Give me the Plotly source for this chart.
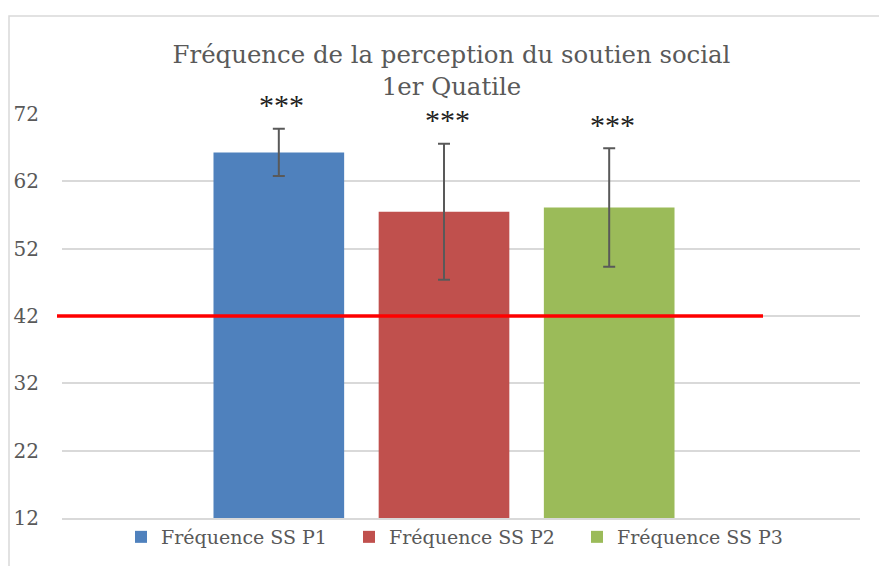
import plotly.graph_objects as go

# ---- data ----
series_names = ["Fréquence SS P1", "Fréquence SS P2", "Fréquence SS P3"]
category = ["1er Quatile"]
means = [66.3, 57.5, 58.1]
errors = [3.5, 10.1, 8.8]
stars = ["***", "***", "***"]
colors = ["#4f81bd", "#c0504d", "#9bbb59"]
threshold = 42
y_ticks = [12, 22, 32, 42, 52, 62, 72]

W, H = 879, 566
ML, MR, MT, MB = 62, 19, 113.5, 48
PW = W - ML - MR
PH = H - MT - MB

FONT = "DejaVu Serif"
GREY = "#595959"

fig = go.Figure()
for name, m, e, c in zip(series_names, means, errors, colors):
    fig.add_trace(go.Bar(
        name=name, x=category, y=[m],
        marker=dict(color=c, line=dict(width=0)),
        error_y=dict(type="data", array=[e], visible=True,
                     color="#595959", thickness=2, width=6),
    ))

# significance stars above each error bar
for i, (m, e, s) in enumerate(zip(means, errors, stars)):
    offs = (i - 1) * (0.621 / 3)
    fig.add_annotation(x=offs, y=m + e, xref="x", yref="y", text=s,
                       showarrow=False, yanchor="middle", yshift=24, xshift=3,
                       font=dict(family="Liberation Serif", size=30, color="#222222"))

def px_x(p):
    return (p - ML) / PW

def px_y(p):
    return 1 - (p - MT) / PH

# reference threshold line
fig.add_shape(type="line", xref="paper", yref="y",
              x0=px_x(57), x1=px_x(763), y0=threshold, y1=threshold,
              line=dict(color="#ff0000", width=3.5), layer="above")

# chart area border
fig.add_shape(type="rect", xref="paper", yref="paper",
              x0=px_x(9), x1=px_x(W + 20), y0=px_y(H + 20), y1=px_y(15.5),
              line=dict(color="#d9d9d9", width=1.5), fillcolor="rgba(0,0,0,0)",
              layer="below")

fig.update_layout(
    width=W, height=H,
    margin=dict(l=ML, r=MR, t=MT, b=MB, pad=0, autoexpand=False),
    paper_bgcolor="white", plot_bgcolor="white",
    barmode="group", bargap=0.379, bargroupgap=0.209,
    title=dict(text="Fréquence de la perception du soutien social<br>1er Quatile",
               x=451.5 / W, xanchor="center", xref="container",
               y=1 - 63 / H, yanchor="top", yref="container",
               font=dict(family=FONT, size=24.4, color=GREY)),
    showlegend=True,
    legend=dict(orientation="h", x=px_x(121), xanchor="left",
                y=px_y(518), yanchor="top",
                entrywidth=183, entrywidthmode="pixels",
                font=dict(family=FONT, size=19, color=GREY),
                bgcolor="rgba(0,0,0,0)"),
    xaxis=dict(range=[-0.4787, 0.5213], showticklabels=False, showgrid=False,
               showline=True, linecolor="#d9d9d9", linewidth=2, zeroline=False,
               fixedrange=True),
    yaxis=dict(range=[12, 72], tickvals=y_ticks, showgrid=True,
               gridcolor="#d9d9d9", gridwidth=2, zeroline=False,
               ticks="outside", ticklen=18, tickcolor="rgba(0,0,0,0)",
               tickfont=dict(family=FONT, size=20, color=GREY),
               showline=False),
)

fig.write_html("out.html", config={"displayModeBar": False},
               post_script="document.body.style.margin='0';document.body.style.overflow='hidden';")
